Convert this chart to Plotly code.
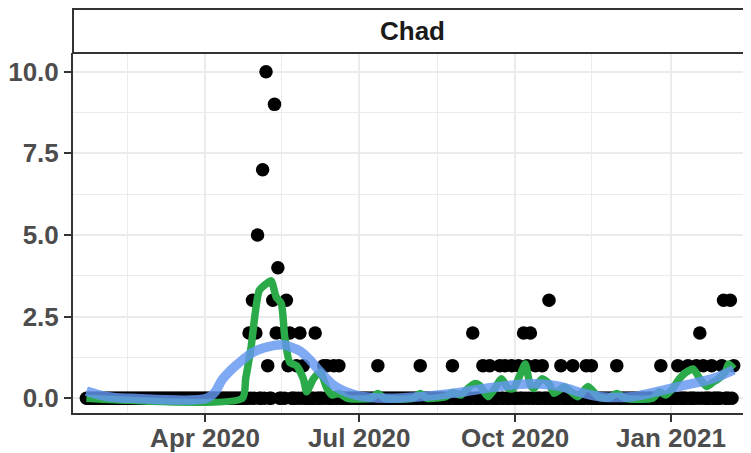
import pandas as pd
import plotly.graph_objects as go

# daily deaths, Chad (only non-zero days listed, every other day is 0)
first_day = "2020-01-22"
last_day = "2021-02-07"
death_dates = [
    "2020-04-27", "2020-04-29", "2020-05-01", "2020-05-02", "2020-05-05",
    "2020-05-07", "2020-05-08", "2020-05-11", "2020-05-12", "2020-05-13",
    "2020-05-14", "2020-05-17", "2020-05-19", "2020-05-20", "2020-05-21",
    "2020-05-25", "2020-05-27", "2020-05-29", "2020-06-05", "2020-06-10",
    "2020-06-12", "2020-06-16", "2020-06-19", "2020-07-12", "2020-08-06",
    "2020-08-25", "2020-09-06", "2020-09-12", "2020-09-16", "2020-09-22",
    "2020-09-25", "2020-09-29", "2020-10-03", "2020-10-06", "2020-10-08",
    "2020-10-10", "2020-10-13", "2020-10-17", "2020-10-21", "2020-10-28",
    "2020-11-04", "2020-11-12", "2020-11-15", "2020-11-30", "2020-12-26",
    "2021-01-05", "2021-01-11", "2021-01-16", "2021-01-18", "2021-01-20",
    "2021-01-25", "2021-01-31", "2021-02-01", "2021-02-05", "2021-02-07",
]
death_values = [
    2, 3, 2, 5, 7,
    10, 1, 3, 9, 2,
    4, 2, 3, 1, 2,
    1, 2, 1, 2, 1,
    1, 1, 1, 1, 1,
    1, 2, 1, 1, 1,
    1, 1, 1, 2, 1,
    2, 1, 1, 3, 1,
    1, 1, 1, 1, 1,
    1, 1, 1, 2, 1,
    1, 1, 3, 3, 1,
]

# green line (rolling average)
avg_dates = [
    "2020-01-22", "2020-04-23", "2020-04-25", "2020-04-28", "2020-05-03",
    "2020-05-07", "2020-05-10", "2020-05-13", "2020-05-16", "2020-05-18",
    "2020-05-21", "2020-05-25", "2020-05-29", "2020-05-31", "2020-06-04",
    "2020-06-08", "2020-06-12", "2020-06-15", "2020-06-19", "2020-06-24",
    "2020-07-08", "2020-07-12", "2020-07-16", "2020-08-02", "2020-08-06",
    "2020-08-10", "2020-08-21", "2020-08-25", "2020-08-30", "2020-09-03",
    "2020-09-07", "2020-09-10", "2020-09-15", "2020-09-19", "2020-09-23",
    "2020-09-27", "2020-09-30", "2020-10-05", "2020-10-07", "2020-10-10",
    "2020-10-12", "2020-10-17", "2020-10-21", "2020-10-24", "2020-10-30",
    "2020-11-03", "2020-11-07", "2020-11-13", "2020-11-19", "2020-11-25",
    "2020-11-30", "2020-12-05", "2020-12-21", "2020-12-25", "2020-12-29",
    "2021-01-02", "2021-01-06", "2021-01-10", "2021-01-14", "2021-01-18",
    "2021-01-22", "2021-01-26", "2021-01-29", "2021-02-02", "2021-02-04",
    "2021-02-07",
]
avg_values = [
    0, 0, 0.6, 1.5, 3.3,
    3.5, 3.6, 3.1, 2.9, 1.9,
    1.1, 1.0, 0.6, 0.2, 0.6,
    0.8, 0.3, 0.1, 0.15, 0,
    0, 0.15, 0, 0, 0.15,
    0, 0.05, 0.18, 0.1, 0.3,
    0.45, 0.4, 0.05, 0.3, 0.6,
    0.3, 0.3, 0.85, 1.05, 0.4,
    0.3, 0.6, 0.45, 0.15, 0.35,
    0.2, 0.05, 0.36, 0.05, 0,
    0.15, 0, 0, 0.2, 0.1,
    0.3, 0.6, 0.8, 0.9, 0.6,
    0.36, 0.5, 0.6, 0.8, 1.05,
    0.9,
]

# blue smoothed trend
smooth_dates = [
    "2020-01-22", "2020-01-30", "2020-02-08", "2020-02-17", "2020-04-02",
    "2020-04-07", "2020-04-11", "2020-04-17", "2020-04-23", "2020-04-29",
    "2020-05-05", "2020-05-12", "2020-05-17", "2020-05-21", "2020-05-27",
    "2020-06-02", "2020-06-08", "2020-06-17", "2020-06-29", "2020-07-17",
    "2020-08-06", "2020-08-25", "2020-09-14", "2020-10-04", "2020-10-16",
    "2020-10-28", "2020-11-07", "2020-11-20", "2020-12-09", "2020-12-23",
    "2021-01-10", "2021-01-26", "2021-02-07",
]
smooth_values = [
    0.22, 0.1, 0.02, 0, 0,
    0.2, 0.56, 0.9, 1.17, 1.4,
    1.53, 1.62, 1.64, 1.58, 1.45,
    1.17, 0.81, 0.36, 0.1, 0,
    0.05, 0.15, 0.31, 0.43, 0.44,
    0.36, 0.2, 0.05, 0.05, 0.2,
    0.41, 0.61, 0.87,
]

x_ticks = ["2020-04-01", "2020-07-01", "2020-10-01", "2021-01-01"]
x_labels = ["Apr 2020", "Jul 2020", "Oct 2020", "Jan 2021"]
x_minor = ["2020-02-15", "2020-05-16", "2020-08-16", "2020-11-15", "2021-02-15"]
y_ticks = [0, 2.5, 5, 7.5, 10]
y_labels = ["0.0", "2.5", "5.0", "7.5", "10.0"]
y_minor = [1.25, 3.75, 6.25, 8.75]
panel_title = "Chad"

days = pd.date_range(first_day, last_day, freq="D")
deaths = pd.Series(0, index=days)
deaths[pd.to_datetime(death_dates)] = death_values

fig = go.Figure()
fig.add_trace(go.Scatter(
    x=deaths.index, y=deaths.values, mode="markers",
    marker=dict(color="black", size=13.5), showlegend=False,
))
fig.add_trace(go.Scatter(
    x=avg_dates, y=avg_values, mode="lines",
    line=dict(color="#2BAA4A", width=7.5, shape="spline", smoothing=0.6),
    showlegend=False,
))
fig.add_trace(go.Scatter(
    x=smooth_dates, y=smooth_values, mode="lines",
    line=dict(color="rgba(100,150,240,0.82)", width=9.5, shape="spline", smoothing=1),
    showlegend=False,
))

tick_font = dict(family="Liberation Sans", size=26, color="#4D4D4D")
# the page body has an 8px margin, so the figure is drawn 8px smaller
plot_h = 360
strip_h = 44 / plot_h

fig.update_layout(
    width=743, height=445,
    margin=dict(l=65, r=0, t=45, b=40, pad=0),
    paper_bgcolor="white", plot_bgcolor="white",
    font=dict(family="Liberation Sans"),
    xaxis=dict(
        type="date", range=["2020-01-14 02:00", "2021-02-17 05:00"], automargin=False,
        tickmode="array", tickvals=x_ticks, ticktext=[f"<b>{t}</b>" for t in x_labels],
        tickfont=tick_font, ticks="outside", ticklen=7, tickwidth=2, tickcolor="#333333",
        ticklabelstandoff=-6,
        showline=True, linecolor="#333333", linewidth=2, mirror=False,
        showgrid=True, gridcolor="#EBEBEB", gridwidth=2, zeroline=False,
        minor=dict(tickmode="array", tickvals=x_minor, showgrid=True,
                   gridcolor="#EBEBEB", gridwidth=1.2, ticks=""),
    ),
    yaxis=dict(
        range=[-0.45, 10.573], automargin=False,
        tickmode="array", tickvals=y_ticks, ticktext=[f"<b>{t}</b>" for t in y_labels],
        tickfont=tick_font, ticks="outside", ticklen=7, tickwidth=2,
        tickcolor="#333333",
        showline=True, linecolor="#333333", linewidth=2, mirror=False,
        showgrid=True, gridcolor="#EBEBEB", gridwidth=2, zeroline=False,
        minor=dict(tickmode="array", tickvals=y_minor, showgrid=True,
                   gridcolor="#EBEBEB", gridwidth=1.2, ticks=""),
    ),
    shapes=[dict(
        type="rect", xref="paper", yref="paper",
        x0=0, x1=1.05, y0=1, y1=1 + strip_h,
        fillcolor="white", line=dict(color="#333333", width=2),
    )],
    annotations=[dict(
        text=f"<b>{panel_title}</b>", xref="paper", yref="paper",
        x=0.5, y=1 + strip_h / 2, xanchor="center", yanchor="middle", showarrow=False,
        font=dict(family="Liberation Sans", size=26, color="#1A1A1A"),
    )],
)

fig.write_html("out.html")
